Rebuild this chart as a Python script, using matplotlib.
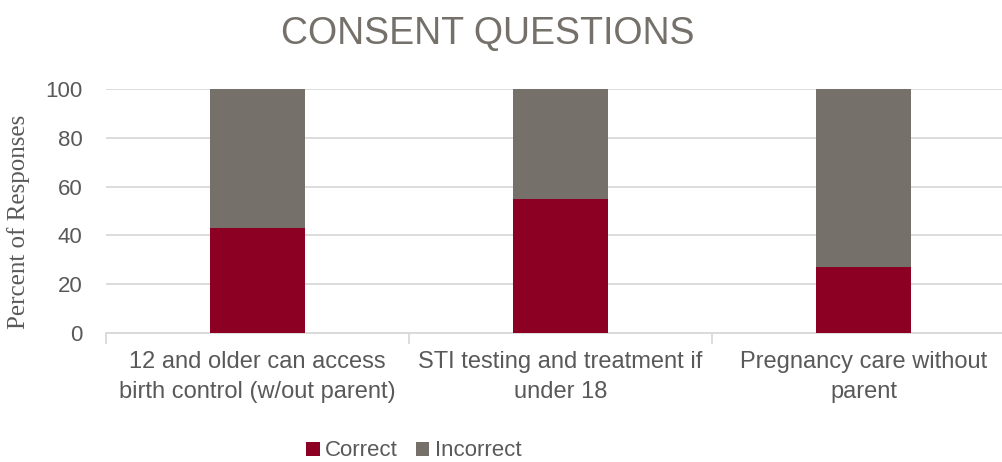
import matplotlib
matplotlib.use("Agg")
import matplotlib.pyplot as plt
import numpy as np

# Data
categories = [
    "12 and older can access\nbirth control (w/out parent)",
    "STI testing and treatment if\nunder 18",
    "Pregnancy care without\nparent",
]
correct = [43, 55, 27]
incorrect = [57, 45, 73]
series_names = ["Correct", "Incorrect"]
y_ticks = [0, 20, 40, 60, 80, 100]

RED = "#8B0023"
GRAY = "#75716A"
TEXT = "#595959"
GRID = "#D9D9D9"

plt.rcParams["font.family"] = ["Liberation Sans", "DejaVu Sans"]

fig = plt.figure(figsize=(10.03, 4.62), dpi=100)
ax = fig.add_axes([106 / 1003, 1 - 333 / 462, 909 / 1003, 244 / 462])

x = np.arange(len(categories))
w = 0.314
ax.bar(x, correct, w, color=RED, label=series_names[0], zorder=3)
ax.bar(x, incorrect, w, bottom=correct, color=GRAY, label=series_names[1], zorder=3)

ax.set_xlim(-0.5, len(categories) - 0.5)
ax.set_ylim(0, 100)
ax.set_yticks(y_ticks)
ax.yaxis.grid(True, color=GRID, lw=1.3, zorder=0)
ax.set_axisbelow(True)

for s in ["top", "right", "left"]:
    ax.spines[s].set_visible(False)
ax.spines["bottom"].set_color(GRID)
ax.spines["bottom"].set_linewidth(1.3)

ax.set_xticks(x)
ax.set_xticklabels(categories, fontsize=17, color=TEXT, linespacing=1.45)
ax.set_xticks(np.arange(-0.5, len(categories), 1.0), minor=True)
ax.tick_params(axis="x", which="major", length=0, pad=13)
ax.tick_params(axis="x", which="minor", length=8, color=GRID, width=1.3)
ax.tick_params(axis="y", length=0, pad=17, labelsize=16, labelcolor=TEXT)

fig.text(19 / 1003, 1 - 222 / 462, "Percent of Responses", rotation=90,
         ha="center", va="center", fontsize=18, color=TEXT,
         family=["Liberation Serif", "DejaVu Serif"])

fig.text(488 / 1003, 1 - 34 / 462, "CONSENT QUESTIONS", ha="center", va="center",
         fontsize=27, color="#75716A")

fig.legend(loc="center", bbox_to_anchor=(414 / 1003, 1 - 451 / 462), ncol=2,
           frameon=False, fontsize=16, labelcolor=TEXT, handlelength=0.6,
           handleheight=0.6, handletextpad=0.25, columnspacing=0.8,
           borderpad=0.1)

fig.savefig("out.png", dpi=100)
